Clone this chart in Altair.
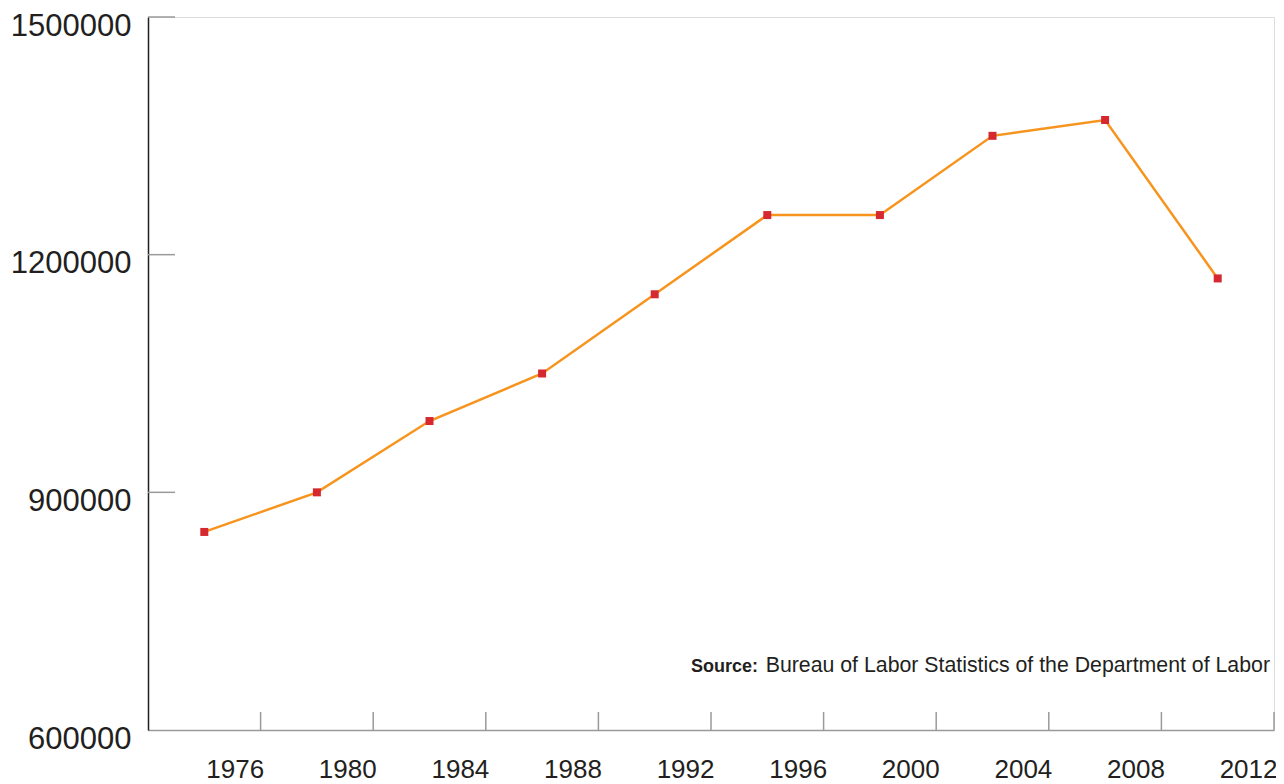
import altair as alt
import pandas as pd

years = [1974, 1978, 1982, 1986, 1990, 1994, 1998, 2002, 2006, 2010]
values = [850000, 900000, 990000, 1050000, 1150000, 1250000, 1250000, 1350000, 1370000, 1170000]
x_ticks = [1976, 1980, 1984, 1988, 1992, 1996, 2000, 2004, 2008, 2012]
y_ticks = [600000, 900000, 1200000, 1500000]

df = pd.DataFrame({"year": years, "value": values})
df_xt = pd.DataFrame({"year": x_ticks})
df_yt = pd.DataFrame({"value": y_ticks[1:]})

xscale = alt.Scale(domain=[1972, 2012], nice=False, zero=False)
yscale = alt.Scale(domain=[600000, 1500000], nice=False, zero=False)

FONT = "Liberation Sans"

x_enc = alt.X(
    "year:Q", scale=xscale, title=None,
    axis=alt.Axis(values=x_ticks, format="d", ticks=False, grid=False,
                  domainColor="#9a9a9a", domainWidth=1.5,
                  labelFont=FONT, labelFontSize=26, labelColor="#231f20",
                  labelAlign="right", labelBaseline="top", labelOffset=3,
                  labelPadding=26, labelFlush=False, labelOverlap=False),
)
y_enc = alt.Y(
    "value:Q", scale=yscale, title=None,
    axis=alt.Axis(values=y_ticks, format="d", ticks=False, grid=False,
                  domainColor="#231f20", domainWidth=1.5,
                  labelFont=FONT, labelFontSize=31, labelColor="#231f20",
                  labelAlign="right", labelBaseline="middle", labelOffset=9,
                  labelPadding=17, labelFlush=False, labelOverlap=False),
)

line = alt.Chart(df).mark_line(color="#f7941d", strokeWidth=2.5).encode(x=x_enc, y=y_enc)
pts = alt.Chart(df).mark_square(color="#d6282f", size=64, opacity=1).encode(
    x=alt.X("year:Q", scale=xscale), y=alt.Y("value:Q", scale=yscale))

xt = alt.Chart(df_xt).mark_rule(color="#9a9a9a", strokeWidth=1.5).encode(
    x=alt.X("year:Q", scale=xscale), y=alt.value(695), y2=alt.value(713))
yt = alt.Chart(df_yt).mark_rule(color="#9a9a9a", strokeWidth=1.5).encode(
    y=alt.Y("value:Q", scale=yscale), x=alt.value(0), x2=alt.value(27))

src_bold = alt.Chart(pd.DataFrame({"t": ["Source:"]})).mark_text(
    font=FONT, fontSize=18, fontWeight="bold", color="#231f20", align="right",
    baseline="alphabetic").encode(text="t:N", x=alt.value(610), y=alt.value(655))
src_reg = alt.Chart(pd.DataFrame({"t": ["Bureau of Labor Statistics of the Department of Labor"]})).mark_text(
    font=FONT, fontSize=21.3, color="#231f20", align="right",
    baseline="alphabetic").encode(text="t:N", x=alt.value(1122), y=alt.value(655))

chart = alt.layer(line, xt, yt, pts, src_bold, src_reg).properties(
    width=1126, height=713,
    autosize=alt.AutoSizeParams(type="none"),
    padding={"left": 140, "top": 9, "right": 2, "bottom": 54},
).configure_view(strokeOpacity=0).configure(background="white")

chart.save("out.html", embed_options={"renderer": "svg", "actions": False})
